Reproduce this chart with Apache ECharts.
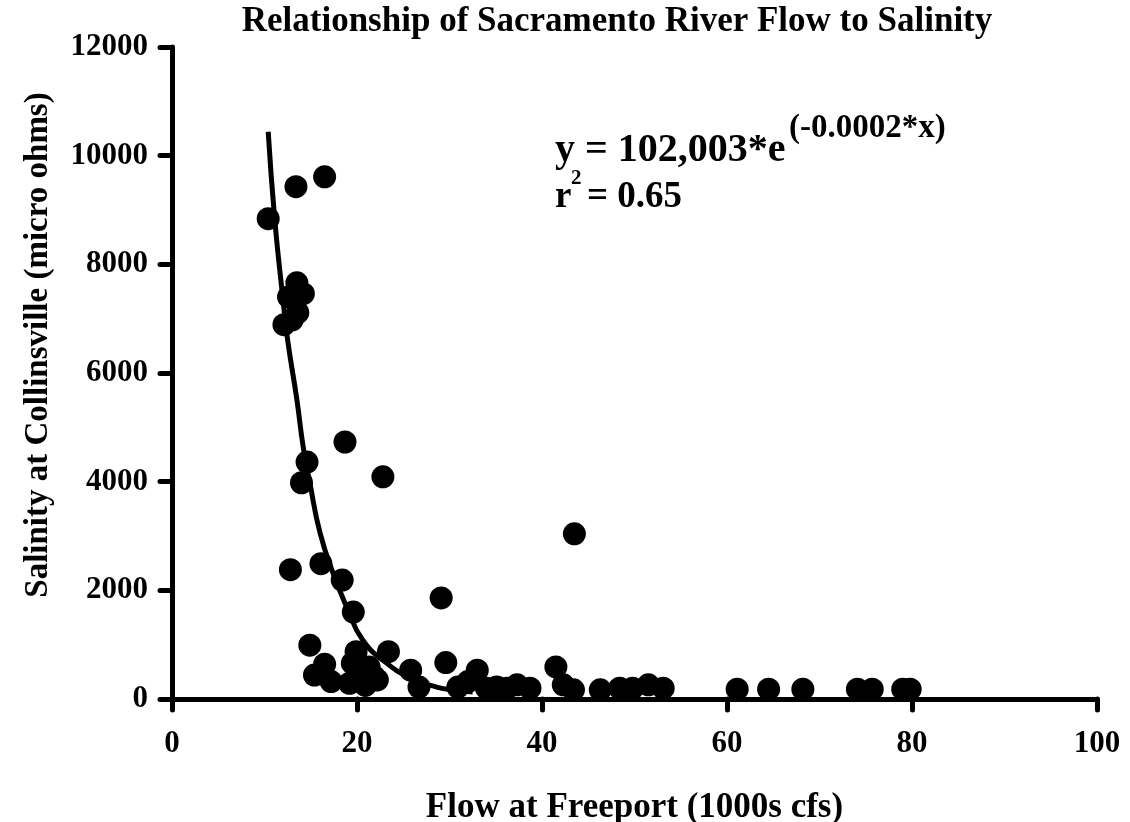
<!DOCTYPE html>
<html>
<head>
<meta charset="utf-8">
<script src="https://cdn.jsdelivr.net/npm/echarts@6/dist/echarts.min.js"></script>
<style>
html,body{margin:0;padding:0;background:#fff;}
#chart{width:1130px;height:822px;}
</style>
</head>
<body>
<div id="chart"></div>
<script>
// Observed data: Flow at Freeport (1000s cfs) vs Salinity at Collinsville (micro ohms)
var flow = [10.4, 13.4, 16.5, 13.5, 12.6, 14.2, 13.6, 12.1, 13.0, 18.7,
            14.6, 14.0, 22.8, 12.8, 16.1, 18.4, 29.1, 19.6, 14.9, 16.5,
            15.4, 17.2, 19.9, 19.5, 21.3, 19.2, 20.9, 22.2, 23.4, 25.8,
            26.7, 29.6, 33.0, 30.9, 32.0, 35.1, 37.3, 38.7, 41.5, 42.3,
            43.4, 43.5, 46.3, 48.4, 49.8, 51.5, 53.1, 61.1, 64.5, 68.2,
            74.1, 75.7, 79.0, 79.8, 21.8, 20.3, 34.0, 36.2];
var salinity = [8840, 9430, 9610, 7660, 7400, 7460, 7110, 6890, 6980, 4730,
                4360, 3980, 4090, 2380, 2490, 2190, 1860, 1600, 990, 640,
                440, 320, 870, 660, 590, 290, 250, 350, 870, 530,
                220, 670, 530, 220, 320, 220, 260, 200, 590, 260,
                170, 3040, 170, 200, 200, 260, 200, 180, 180, 180,
                180, 180, 180, 180, 420, 420, 200, 200];

// Fitted curve, points
var curveFlow = [10.4, 11.1, 12.0, 12.5, 13.5, 14.2, 14.9, 16.0, 17.4, 18.9, 20.6, 23.2, 25.7, 28.6, 30.8, 32.5];
var curveSalinity = [10440, 8840, 7350, 6610, 5510, 4620, 3980, 3060, 2320, 1690, 1090, 660, 400, 220, 160, 130];

var xTicks = [0, 20, 40, 60, 80, 100];
var yTicks = [0, 2000, 4000, 6000, 8000, 10000, 12000];

var titleText = 'Relationship of Sacramento River Flow to Salinity';
var xName = 'Flow at Freeport (1000s cfs)';
var yName = 'Salinity at Collinsville (micro ohms)';

var FONT = '"Liberation Serif", "Times New Roman", serif';

var points = flow.map(function (v, i) { return [v, salinity[i]]; });
var curve = curveFlow.map(function (v, i) { return [v, curveSalinity[i]]; });

var chart = echarts.init(document.getElementById('chart'), null, {renderer: 'canvas'});

function txt(x, y, text, size, align, vAlign, rot) {
  return {
    type: 'text', x: x, y: y, rotation: rot || 0, z: 100,
    style: {
      text: text, fill: '#000', font: 'bold ' + size + 'px ' + FONT,
      align: align, verticalAlign: vAlign
    }
  };
}

chart.setOption({
  backgroundColor: '#fff',
  animation: false,
  grid: {left: 172, right: 33, top: 47, bottom: 123, containLabel: false, outerBoundsMode: 'none'},
  xAxis: {
    type: 'value', min: 0, max: 100, interval: 20,
    name: xName, nameLocation: 'middle', nameGap: 91,
    nameTextStyle: {color: '#000', fontFamily: FONT, fontWeight: 'bold', fontSize: 35},
    axisLine: {show: true, onZero: false, lineStyle: {color: '#000', width: 5, cap: 'round'}},
    axisTick: {show: true, inside: false, length: 11, lineStyle: {color: '#000', width: 5, cap: 'round'}},
    axisLabel: {
      color: '#000', fontFamily: FONT, fontWeight: 'bold', fontSize: 31, margin: 29,
      formatter: function (v) { return xTicks.indexOf(v) >= 0 ? String(v) : ''; }
    },
    splitLine: {show: false}
  },
  yAxis: {
    type: 'value', min: 0, max: 12000, interval: 2000,
    axisLine: {show: true, onZero: false, lineStyle: {color: '#000', width: 5, cap: 'round'}},
    axisTick: {show: true, inside: false, length: 12, lineStyle: {color: '#000', width: 5, cap: 'round'}},
    axisLabel: {
      color: '#000', fontFamily: FONT, fontWeight: 'bold', fontSize: 31, margin: 24,
      formatter: function (v) { return yTicks.indexOf(v) >= 0 ? String(v) : ''; }
    },
    splitLine: {show: false}
  },
  series: [
    {
      type: 'line', data: curve, smooth: true, showSymbol: false, symbol: 'none',
      lineStyle: {color: '#000', width: 5}, z: 2, clip: false
    },
    {
      type: 'scatter', data: points, symbol: 'circle', symbolSize: 23,
      itemStyle: {color: '#000', opacity: 1}, z: 3
    }
  ],
  graphic: [
    txt(617, 22, titleText, 35, 'center', 'middle'),
    txt(38, 345, yName, 33, 'center', 'middle', Math.PI / 2),
    txt(555, 151, 'y = 102,003*e', 40, 'left', 'middle'),
    txt(789, 128, '(-0.0002*x)', 33, 'left', 'middle'),
    txt(555, 197, 'r', 37, 'left', 'middle'),
    txt(571, 179, '2', 21, 'left', 'middle'),
    txt(587, 197, '= 0.65', 37, 'left', 'middle')
  ]
});
</script>
</body>
</html>
